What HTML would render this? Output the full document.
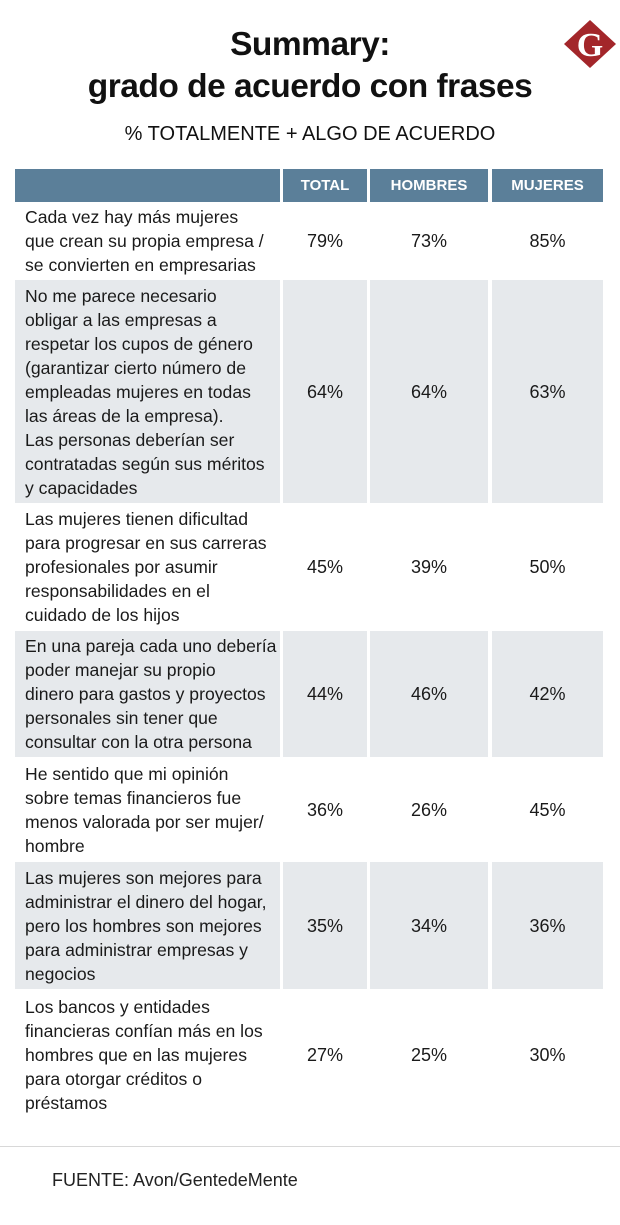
<!DOCTYPE html>
<html><head><meta charset="utf-8">
<style>
body{margin:0;background:#fff;}
#wrap{position:relative;width:620px;height:1225px;overflow:hidden;background:#fff;font-family:"Liberation Sans Narrow","Liberation Sans",sans-serif;color:#1a1a1a;}
.title{position:absolute;left:0;width:620px;text-align:center;font-family:"Liberation Sans",sans-serif;font-weight:bold;font-size:33.5px;line-height:40px;letter-spacing:-0.5px;color:#111;}
.sub{position:absolute;left:0;top:123px;width:620px;text-align:center;font-size:20px;color:#111;}
.hd{position:absolute;top:169px;height:33px;background:#5b7f99;color:#fff;font-family:"Liberation Sans",sans-serif;font-weight:bold;font-size:15px;line-height:33px;text-align:center;}
.cell{position:absolute;}
.lbl{position:absolute;left:25px;font-size:17.6px;line-height:24px;white-space:nowrap;}
.val{position:absolute;font-size:18px;text-align:center;}
</style></head>
<body>
<div id="wrap">
<div class="title" style="top:25px">Summary:</div>
<div class="title" style="top:67px">grado de acuerdo con frases</div>
<svg style="position:absolute;left:562px;top:18px" width="56" height="52">
<polygon points="28,2 54,26 28,50 2,26" fill="#a3262a"/>
<text x="28" y="38" text-anchor="middle" font-family="Liberation Serif,serif" font-weight="bold" font-size="34" fill="#fff">G</text>
</svg>
<div class="sub">% TOTALMENTE + ALGO DE ACUERDO</div>

<div class="hd" style="left:15px;width:265px"></div>
<div class="hd" style="left:283px;width:84px">TOTAL</div>
<div class="hd" style="left:370px;width:118px">HOMBRES</div>
<div class="hd" style="left:492px;width:111px">MUJERES</div>

<div id="rows"></div>

<div style="position:absolute;left:0;top:1146px;width:620px;height:1px;background:#d8d8d8"></div>
<div style="position:absolute;left:52px;top:1170px;font-size:18px;color:#222">FUENTE: Avon/GentedeMente</div>
</div>
<script>
const statements=[
["Cada vez hay más mujeres","que crean su propia empresa /","se convierten en empresarias"],
["No me parece necesario","obligar a las empresas a","respetar los cupos de género","(garantizar cierto número de","empleadas mujeres en todas","las áreas de la empresa).","Las personas deberían ser","contratadas según sus méritos","y capacidades"],
["Las mujeres tienen dificultad","para progresar en sus carreras","profesionales por asumir","responsabilidades en el","cuidado de los hijos"],
["En una pareja cada uno debería","poder manejar su propio","dinero para gastos y proyectos","personales sin tener que","consultar con la otra persona"],
["He sentido que mi opinión","sobre temas financieros fue","menos valorada por ser mujer/","hombre"],
["Las mujeres son mejores para","administrar el dinero del hogar,","pero los hombres son mejores","para administrar empresas y","negocios"],
["Los bancos y entidades","financieras confían más en los","hombres que en las mujeres","para otorgar créditos o","préstamos"]];
const totalVals=[79,64,45,44,36,35,27];
const hombresVals=[73,64,39,46,26,34,25];
const mujeresVals=[85,63,50,42,45,36,30];
const rowTops=[202,280,505,631,759,862,991];
const rowBottoms=[279,503,628,757,860,989,1118];
const cols=[[15,265],[283,84],[370,118],[492,111]];
const host=document.getElementById('rows');
statements.forEach((lines,i)=>{
  const top=rowTops[i],h=rowBottoms[i]-top,gray=i%2===1;
  cols.forEach((c,j)=>{
    const d=document.createElement('div');
    d.className='cell';
    
    
    d.style.cssText='left:'+c[0]+'px;width:'+c[1]+'px;top:'+top+'px;height:'+h+'px;background:'+(gray?'#e6e9ec':'#fff');
    host.appendChild(d);
  });
  const lb=document.createElement('div');
  lb.className='lbl';
  
  
  const th=lines.length*24;
  lb.style.top=(top+(h-th)/2)+'px';
  lb.innerHTML=lines.join('<br>');
  host.appendChild(lb);
  [totalVals,hombresVals,mujeresVals].forEach((arr,k)=>{
    const c=cols[k+1];
    const v=document.createElement('div');
    v.className='val';
    
    
    v.style.cssText='left:'+c[0]+'px;width:'+c[1]+'px;top:'+(top+h/2-11)+'px;line-height:22px';
    v.textContent=arr[i]+'%';
    host.appendChild(v);
  });
});
</script>
</body></html>
